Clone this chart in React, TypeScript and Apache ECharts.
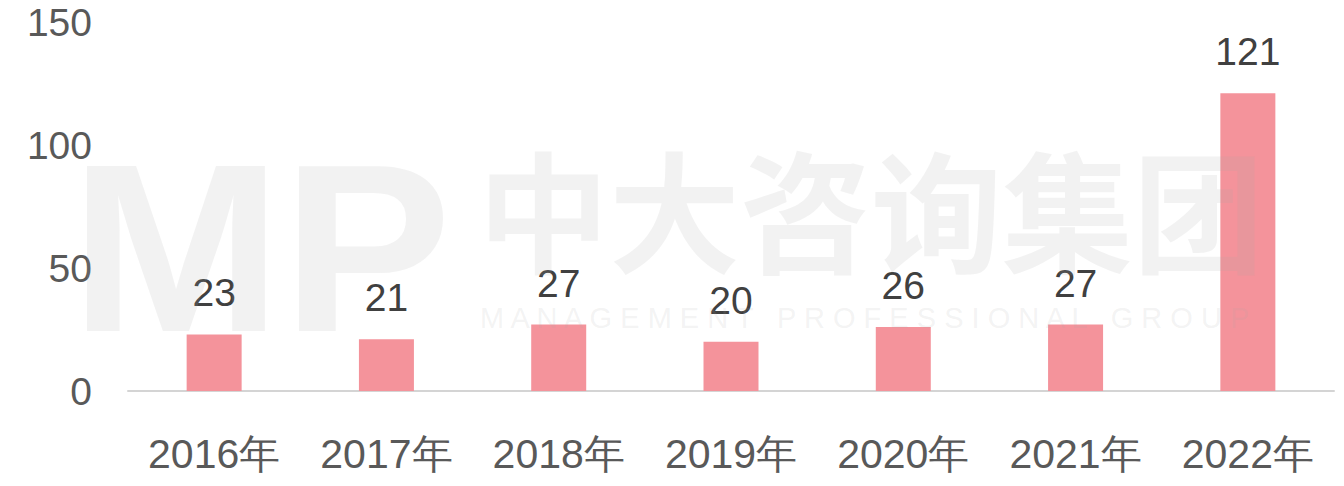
import React, { useEffect, useRef } from "react";
import * as echarts from "echarts";

const categories = ["2016年", "2017年", "2018年", "2019年", "2020年", "2021年", "2022年"];
const values = [23, 21, 27, 20, 26, 27, 121];
const yMin = 0;
const yMax = 150;
const yInterval = 50;

export default function App() {
  const ref = useRef<HTMLDivElement>(null);
  useEffect(() => {
    if (!ref.current) return;
    const chart = echarts.init(ref.current, null, { renderer: "svg" });
    const font = "'Liberation Sans', Arial, sans-serif";
    const wm = "rgba(170,170,170,0.15)";
    chart.setOption({
      animation: false,
      backgroundColor: "#ffffff",
      grid: { left: 128, right: 10, top: 22, bottom: 95 },
      xAxis: {
        type: "category",
        data: categories,
        axisLine: { show: true, lineStyle: { color: "#d4d4d4", width: 2 } },
        axisTick: { show: false },
        axisLabel: { color: "#595959", fontSize: 41, fontFamily: font, margin: 42, interval: 0 },
      },
      yAxis: {
        type: "value",
        min: yMin,
        max: yMax,
        interval: yInterval,
        axisLine: { show: false },
        axisTick: { show: false },
        splitLine: { show: false },
        axisLabel: { color: "#595959", fontSize: 39, fontFamily: font, margin: 36 },
      },
      graphic: [
        {
          type: "text",
          left: 70,
          top: 128,
          z: 100,
          silent: true,
          scaleX: 1.06,
          style: {
            text: "MP",
            fontSize: 240,
            fontWeight: "bold",
            fontFamily: font,
            fill: wm,
          },
        },
        {
          type: "text",
          left: 478,
          top: 140,
          z: 100,
          silent: true,
          style: {
            text: "中大咨询集团",
            fontSize: 131,
            fontWeight: "bold",
            fontFamily: "'Noto Sans CJK SC', sans-serif",
            fill: wm,
          },
        },
        {
          type: "text",
          left: 480,
          top: 303,
          z: 100,
          silent: true,
          style: {
            text: "M A N A G E M E N T   P R O F E S S I O N A L   G R O U P",
            fontSize: 29,
            fontFamily: font,
            fill: wm,
          },
        },
      ],
      series: [
        {
          type: "bar",
          data: values,
          barWidth: 55,
          itemStyle: { color: "#F4939B" },
          label: {
            show: true,
            position: "top",
            distance: 22,
            color: "#404040",
            fontSize: 39,
            fontFamily: font,
          },
        },
      ],
    });
    return () => chart.dispose();
  }, []);
  return <div ref={ref} style={{ width: 1344, height: 486, position: "absolute", left: 0, top: 0 }} />;
}
